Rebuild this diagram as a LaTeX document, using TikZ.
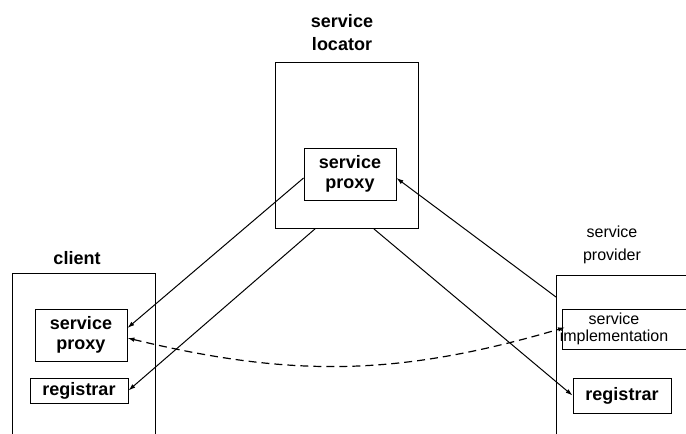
\documentclass[tikz,border=0pt]{standalone}
\usepackage{fontspec}
\setmainfont{Liberation Sans}
\usetikzlibrary{arrows.meta,positioning}
\begin{document}
\begin{tikzpicture}[x=1pt,y=-1pt,>={Latex[length=7pt,width=4.5pt]},line width=1pt,
	box/.style={draw,line width=0.9pt,inner sep=0pt},
	bold/.style={font=\bfseries\fontsize{18}{20}\selectfont,align=center},
	plain/.style={font=\fontsize{16}{23}\selectfont,align=center}]
	\useasboundingbox (0,0) rectangle (686,434);
	\clip (0,0) rectangle (686,434);
	% outer boxes
	\node[box,minimum width=143pt,minimum height=166pt,anchor=north west] (locator) at (275,62) {};
	\node[box,minimum width=143pt,minimum height=190pt,anchor=north west] (client) at (12,273) {};
	\node[box,minimum width=150pt,minimum height=190pt,anchor=north west] (provider) at (556,275) {};
	\node[bold,font=\bfseries\fontsize{18}{23}\selectfont] (loclabel) at (342,33) {service\\locator};
	\node[bold] (clientlabel) at (77,258) {client};
	\node[plain] (provlabel) at (612,245) {service\\provider};
	% inner boxes
	\node[box,bold,minimum width=92pt,minimum height=52pt] (lproxy) at (350,174) {service\\proxy};
	\node[box,bold,minimum width=92pt,minimum height=52pt] (cproxy) at (81,335) {service\\proxy};
	\node[box,bold,minimum width=98pt,minimum height=25pt] (creg) at (79,390.5) {registrar};
	\node[box,bold,minimum width=98pt,minimum height=35pt] (preg) at (622,395.5) {registrar};
	\node[box,minimum width=140pt,minimum height=40pt,anchor=north west] (impl) at (562,309) {};
	\node[plain,font=\fontsize{16}{17}\selectfont] (impltext) at (614,329) {service\\implementation};
	% connectors
	\draw[->] ([yshift=-4pt]lproxy.west) -- ([yshift=7pt]cproxy.east);
	\draw[->] ([xshift=40pt]locator.south west) -- (creg.east);
	\draw[->] ([xshift=-45pt]locator.south east) -- (preg.west);
	\draw[->] ([yshift=-22pt]provider.north west) -- ([yshift=-4pt]lproxy.east);
	\draw[<->,line width=1.2pt,dash pattern=on 8pt off 5pt] ([yshift=-3pt]cproxy.east) to[bend right=15] ([xshift=3pt,yshift=2pt]impl.west);
\end{tikzpicture}
\end{document}
